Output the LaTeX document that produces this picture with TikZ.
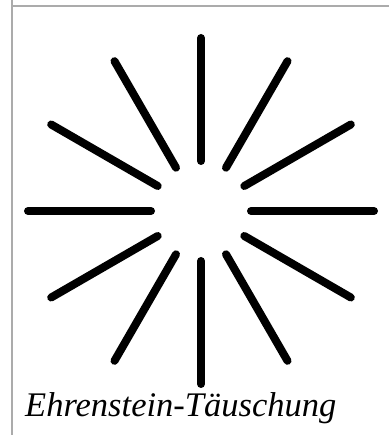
\documentclass[tikz,border=0pt]{standalone}
\usepackage{fontspec}
\setmainfont{Liberation Serif}

\tikzset{
    ray/.style={line width=8pt,line cap=round},
    frameline/.style={draw=black!33,line width=1.5pt}
}

\begin{document}
\begin{tikzpicture}[x=1pt,y=1pt]
    \useasboundingbox (0,0) rectangle (389,435);
    \draw[frameline] (12,0) -- (12,435);
    \draw[frameline] (12,429) -- (389,429);

    \coordinate (centre) at (201,224);
    \foreach \a in {0,30,...,330} {
        \draw[ray] ([shift={(\a:50)}]centre) -- ([shift={(\a:173)}]centre);
    }

    \node[anchor=base west,inner sep=0pt,font=\itshape\fontsize{34.5}{40}\selectfont] (caption) at (25,18) {Ehrenstein-Täuschung};
\end{tikzpicture}
\end{document}
